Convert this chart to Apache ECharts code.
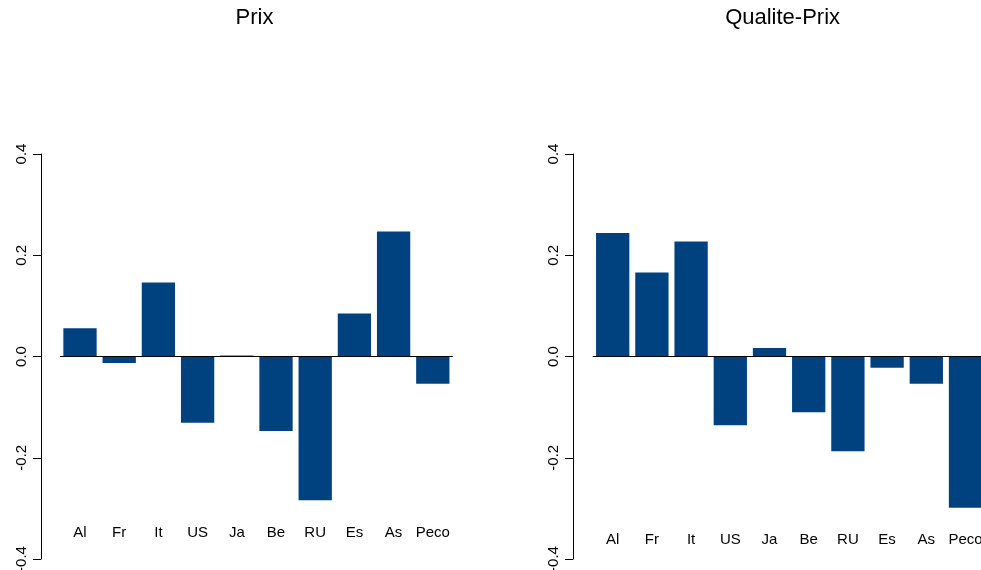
<!DOCTYPE html>
<html>
<head>
<meta charset="utf-8">
<script src="https://cdn.jsdelivr.net/npm/echarts@6/dist/echarts.min.js"></script>
<style>
  html, body { margin: 0; padding: 0; background: #fff; }
  #main { width: 981px; height: 570px; }
</style>
</head>
<body>
<div id="main"></div>
<script>
// pays
var categories = ['Al', 'Fr', 'It', 'US', 'Ja', 'Be', 'RU', 'Es', 'As', 'Peco']
// valeurs
var prix = [0.056, -0.013, 0.146, -0.131, 0.002, -0.147, -0.284, 0.085, 0.247, -0.054]
var qualitePrix = [0.244, 0.166, 0.227, -0.136, 0.017, -0.110, -0.187, -0.022, -0.054, -0.299]
var panelTitles = ['Prix', 'Qualite-Prix']
var yTicks = [-0.4, -0.2, 0.0, 0.2, 0.4]

var font = '"Liberation Sans", Arial, Helvetica, sans-serif'
var barColor = '#00427f'

var chart = echarts.init(document.getElementById('main'))

// pas de réduction automatique de la grille (v6)
var grids = [
  { left: 60.4, top: 154, width: 392, height: 405, outerBoundsMode: 'none', containLabel: false },
  { left: 593.1, top: 154, width: 392, height: 405, outerBoundsMode: 'none', containLabel: false }
]
var titleCenters = [254.5, 782.6]
var yOffsets = [19.4, 20.1]
var labelOffsets = [-26, -19.5]
var seriesData = [prix, qualitePrix]

var xAxes = []
var yAxes = []
var series = []
var titles = []
grids.forEach(function (g, i) {
  titles.push({
    text: panelTitles[i],
    left: titleCenters[i],
    top: 7,
    textAlign: 'center',
    padding: 0,
    textStyle: { fontFamily: font, fontSize: 22, fontWeight: 'normal', color: '#000' }
  })
  // axe du zéro
  xAxes.push({
    type: 'category',
    gridIndex: i,
    data: categories,
    z: 5,
    axisLine: { show: true, onZero: true, lineStyle: { color: '#000', width: 1 } },
    axisTick: { show: false },
    axisLabel: { show: false },
    splitLine: { show: false }
  })
  // noms en bas
  xAxes.push({
    type: 'category',
    gridIndex: i,
    data: categories,
    position: 'bottom',
    offset: labelOffsets[i],
    axisLine: { show: false, onZero: false },
    axisTick: { show: false },
    axisLabel: {
      show: true, interval: 0, margin: 0, verticalAlign: 'middle',
      fontFamily: font, fontSize: 15, color: '#000'
    },
    splitLine: { show: false }
  })
  yAxes.push({
    type: 'value',
    gridIndex: i,
    min: yTicks[0],
    max: yTicks[yTicks.length - 1],
    interval: 0.2,
    offset: yOffsets[i],
    axisLine: { show: true, lineStyle: { color: '#000', width: 1 } },
    axisTick: { show: true, length: 8, lineStyle: { color: '#000' } },
    axisLabel: {
      rotate: 90, margin: 12,
      fontFamily: font, fontSize: 15, color: '#000',
      formatter: function (v) { return v.toFixed(1) }
    },
    splitLine: { show: false }
  })
  series.push({
    type: 'bar',
    xAxisIndex: i * 2,
    yAxisIndex: i,
    data: seriesData[i],
    barWidth: 33.3,
    itemStyle: { color: barColor },
    silent: true
  })
})

chart.setOption({
  animation: false,
  backgroundColor: '#fff',
  title: titles,
  grid: grids,
  xAxis: xAxes,
  yAxis: yAxes,
  series: series
})
</script>
</body>
</html>
